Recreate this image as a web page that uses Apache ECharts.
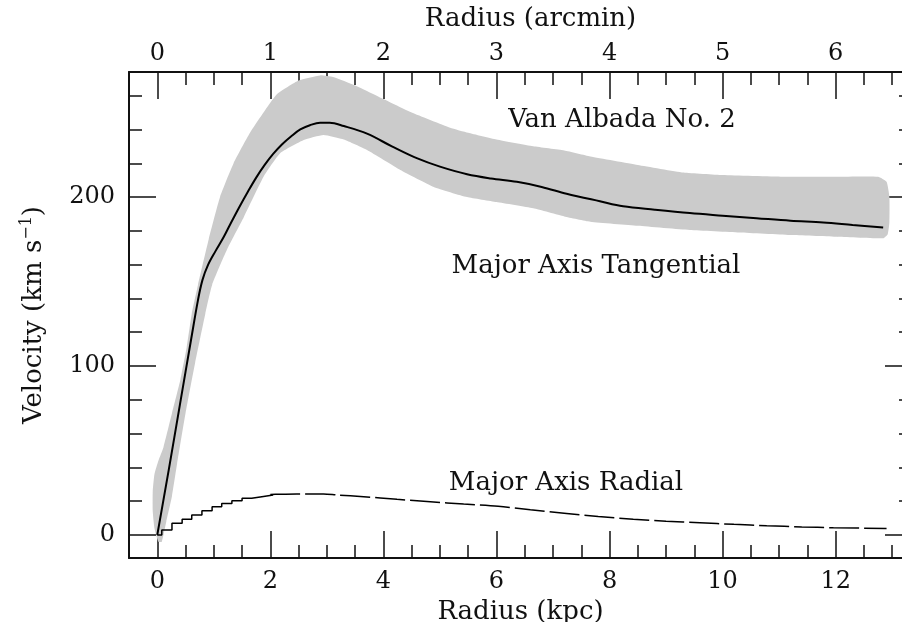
<!DOCTYPE html>
<html>
<head>
<meta charset="utf-8">
<script src="https://cdn.jsdelivr.net/npm/echarts@6/dist/echarts.min.js"></script>
<style>
html,body{margin:0;padding:0;background:#fff;}
#chart{width:902px;height:622px;}
</style>
</head>
<body>
<div id="chart"></div>
<script>
// ---- Data ----
// Major axis tangential rotation curve (kpc, km/s)
const tanR = [0, 0.2, 0.4, 0.6, 0.72, 0.8, 0.9, 1.03, 1.17, 1.3, 1.45, 1.6, 1.75, 1.9, 2.05, 2.2, 2.37, 2.53, 2.7, 2.88, 3.05, 3.3, 3.71, 4.15, 4.59, 5.0, 5.48, 5.9, 6.36, 6.8, 7.24, 7.83, 8.24, 8.8, 9.42, 10.0, 10.6, 11.2, 11.78, 12.3, 12.84];
const tanV = [0, 38, 77, 116, 139, 151, 160, 168, 176, 184.5, 194, 203, 211.5, 219, 225.5, 231, 236, 240, 242.5, 244, 244, 242, 237.5, 230, 223, 218, 213.5, 211, 209, 206, 202, 197.5, 194.5, 192.5, 190.5, 189, 187.5, 186, 185, 183.5, 182];

// Uncertainty band: upper/left edge and lower/right edge
const bandUpper = [[0.02,-4],[-0.05,4],[-0.08,14],[-0.08,26],[-0.05,36],[0.02,44],[0.11,52],[0.26,72],[0.41,92],[0.52,111],[0.61,131],[0.72,148],[0.91,175],[1.11,200],[1.35,220],[1.64,238],[1.94,253],[2.12,261],[2.5,269],[2.88,272],[3.11,271],[3.5,266],[4.0,258],[4.5,250],[5.18,241],[5.5,238],[6.0,234],[6.65,230],[7.2,227.5],[7.66,224],[8.5,219],[9.31,214.5],[10.0,213],[11.07,212],[12.0,212],[12.75,212],[12.9,209],[12.95,200],[12.95,185]];
const bandLower = [[12.92,178],[12.84,175.6],[12.0,176.5],[11.19,177.5],[10.3,179],[9.42,180.5],[8.5,183],[7.66,185.4],[7.2,188.5],[6.65,193.3],[6.0,197],[5.48,200],[4.89,206],[4.3,216],[3.71,227.8],[3.3,234],[2.94,236.7],[2.59,233.7],[2.17,225.8],[1.88,212],[1.53,188],[1.23,168.6],[0.97,148],[0.85,131],[0.67,102],[0.5,72],[0.35,42],[0.26,23],[0.16,8],[0.08,-4]];

// Major axis radial velocity: stepped inner part and dashed outer part
const radStepR = [0, 0.08, 0.26, 0.44, 0.61, 0.79, 0.97, 1.14, 1.32, 1.5, 1.67, 1.85, 2.05];
const radStepV = [0, 3, 6.9, 9.3, 11.8, 14.4, 16.8, 18.7, 20.3, 21.7, 22.7, 23.7, 24.1];
const radR = [2.0, 2.17, 2.47, 2.94, 3.18, 3.65, 4.24, 4.83, 5.42, 6.03, 6.6, 7.24, 7.8, 8.42, 9.0, 9.6, 10.2, 10.78, 11.4, 11.96, 12.9];
const radV = [24, 24.1, 24.3, 24.3, 23.7, 22.7, 21.1, 19.7, 18.3, 17, 15, 12.8, 11, 9.3, 8.2, 7.3, 6.3, 5.5, 4.8, 4.3, 3.9];

// Ticks
const kpcMajor = [0, 2, 4, 6, 8, 10, 12];
const kpcMinor = [0.5, 1, 1.5, 2.5, 3, 3.5, 4.5, 5, 5.5, 6.5, 7, 7.5, 8.5, 9, 9.5, 10.5, 11, 11.5, 12.5, 13];
const arcMajor = [0, 1, 2, 3, 4, 5, 6];
const arcMinor = [0.25, 0.5, 0.75, 1.25, 1.5, 1.75, 2.25, 2.5, 2.75, 3.25, 3.5, 3.75, 4.25, 4.5, 4.75, 5.25, 5.5, 5.75, 6.25, 6.5];
const velMajor = [0, 100, 200];
const velMinor = [20, 40, 60, 80, 120, 140, 160, 180, 220, 240, 260];

const X_MIN = -0.5, X_MAX = 13.35, Y_MIN = -13.6, Y_MAX = 274;
const KPC_PER_ARCMIN = 2.0;

const FONT = '"DejaVu Serif", "Liberation Serif", serif';
const INK = '#111';

const zip = (a, b) => a.map((v, i) => [v, b[i]]);
const bandPolygon = bandUpper.concat(bandLower);

function majorAxis(extra) {
  return Object.assign({
    type: 'value',
    splitLine: { show: false },
    axisLine: { show: true, onZero: false, lineStyle: { color: INK, width: 2 } },
    axisTick: { show: true, inside: true, length: 27, lineStyle: { color: INK, width: 1.5 } },
    axisLabel: { show: true, color: INK, fontFamily: FONT, fontSize: 24 },
    nameTextStyle: { color: INK, fontFamily: FONT, fontSize: 26 }
  }, extra);
}
function minorAxis(extra) {
  return Object.assign({
    type: 'value',
    splitLine: { show: false },
    axisLine: { show: false, onZero: false },
    axisTick: { show: true, inside: true, length: 13, lineStyle: { color: INK, width: 1.5 } },
    axisLabel: { show: false }
  }, extra);
}

const chart = echarts.init(document.getElementById('chart'), null, { renderer: 'canvas' });
const option = {
  animation: false,
  backgroundColor: '#ffffff',
  grid: { left: 129, right: -10, top: 72, bottom: 64, containLabel: false, outerBoundsMode: 'none' },
  xAxis: [
    majorAxis({ position: 'bottom', min: X_MIN, max: X_MAX,
      axisTick: { show: true, inside: true, length: 27, customValues: kpcMajor, lineStyle: { color: INK, width: 1.5 } },
      axisLabel: { show: true, customValues: kpcMajor, margin: 12, color: INK, fontFamily: FONT, fontSize: 24 },
      name: 'Radius (kpc)', nameLocation: 'middle', nameGap: 38 }),
    minorAxis({ position: 'bottom', min: X_MIN, max: X_MAX,
      axisTick: { show: true, inside: true, length: 13, customValues: kpcMinor, lineStyle: { color: INK, width: 1.5 } } }),
    majorAxis({ position: 'top', min: X_MIN / KPC_PER_ARCMIN, max: X_MAX / KPC_PER_ARCMIN,
      axisTick: { show: true, inside: true, length: 27, customValues: arcMajor, lineStyle: { color: INK, width: 1.5 } },
      axisLabel: { show: true, customValues: arcMajor, margin: 6, color: INK, fontFamily: FONT, fontSize: 24 },
      name: 'Radius (arcmin)', nameLocation: 'middle', nameGap: 40,
      nameTextStyle: { color: INK, fontFamily: FONT, fontSize: 26, padding: [0, 0, 0, 20] } }),
    minorAxis({ position: 'top', min: X_MIN / KPC_PER_ARCMIN, max: X_MAX / KPC_PER_ARCMIN,
      axisTick: { show: true, inside: true, length: 13, customValues: arcMinor, lineStyle: { color: INK, width: 1.5 } } })
  ],
  yAxis: [
    majorAxis({ position: 'left', min: Y_MIN, max: Y_MAX,
      axisTick: { show: true, inside: true, length: 27, customValues: velMajor, lineStyle: { color: INK, width: 1.5 } },
      axisLabel: { show: true, customValues: velMajor, margin: 14, color: INK, fontFamily: FONT, fontSize: 24 },
      name: 'Velocity (km s{sup|−1})', nameLocation: 'middle', nameGap: 80, nameRotate: 90,
      nameTextStyle: { color: INK, fontFamily: FONT, fontSize: 26,
        rich: { sup: { fontSize: 16, fontFamily: FONT, color: INK, padding: [0, 0, 14, 0] } } } }),
    minorAxis({ position: 'left', min: Y_MIN, max: Y_MAX,
      axisTick: { show: true, inside: true, length: 13, customValues: velMinor, lineStyle: { color: INK, width: 1.5 } } }),
    majorAxis({ position: 'right', min: Y_MIN, max: Y_MAX,
      axisTick: { show: true, inside: true, length: 27, customValues: velMajor, lineStyle: { color: INK, width: 1.5 } },
      axisLabel: { show: false } }),
    minorAxis({ position: 'right', min: Y_MIN, max: Y_MAX,
      axisTick: { show: true, inside: true, length: 13, customValues: velMinor, lineStyle: { color: INK, width: 1.5 } } })
  ],
  series: [
    {
      type: 'custom', name: 'band', xAxisIndex: 0, yAxisIndex: 0, silent: true, z: 1,
      data: [[0, 0]],
      renderItem: function (params, api) {
        if (params.dataIndex > 0) return null;
        const pts = bandPolygon.map(p => api.coord(p));
        return { type: 'polygon', shape: { points: pts, smooth: 0.15 }, style: { fill: '#cbcbcb' } };
      }
    },
    {
      type: 'line', name: 'Major Axis Tangential', xAxisIndex: 0, yAxisIndex: 0, silent: true, z: 3,
      data: zip(tanR, tanV), showSymbol: false, symbol: 'none', smooth: 0.35,
      lineStyle: { color: '#000', width: 2 }
    },
    {
      type: 'line', name: 'Major Axis Radial (inner)', xAxisIndex: 0, yAxisIndex: 0, silent: true, z: 3,
      data: zip(radStepR, radStepV), showSymbol: false, symbol: 'none', step: 'end',
      lineStyle: { color: '#000', width: 1.5 }
    },
    {
      type: 'line', name: 'Major Axis Radial', xAxisIndex: 0, yAxisIndex: 0, silent: true, z: 3,
      data: zip(radR, radV), showSymbol: false, symbol: 'none', smooth: 0.3,
      lineStyle: { color: '#000', width: 1.5, type: [30, 5] }
    }
  ],
  graphic: [
    { type: 'text', x: 622, y: 120, silent: true, style: { text: 'Van Albada No. 2', align: 'center', verticalAlign: 'middle', fontFamily: FONT, fontSize: 26, fill: INK } },
    { type: 'text', x: 596, y: 266, silent: true, style: { text: 'Major Axis Tangential', align: 'center', verticalAlign: 'middle', fontFamily: FONT, fontSize: 26, fill: INK } },
    { type: 'text', x: 566, y: 483, silent: true, style: { text: 'Major Axis Radial', align: 'center', verticalAlign: 'middle', fontFamily: FONT, fontSize: 26, fill: INK } }
  ]
};
chart.setOption(option);
</script>
</body>
</html>
